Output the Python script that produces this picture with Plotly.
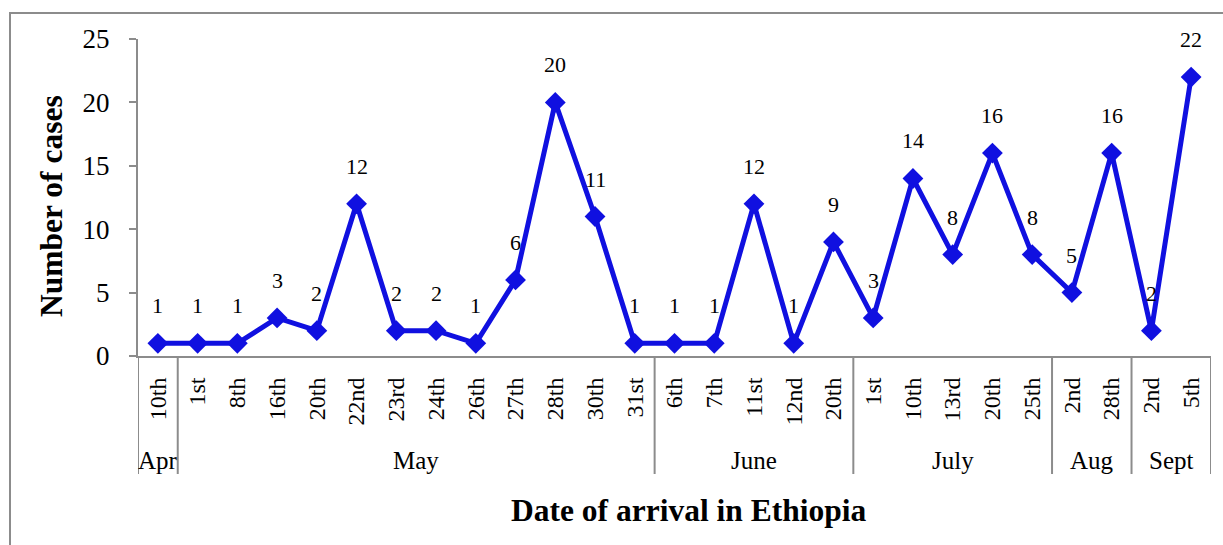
import plotly.graph_objects as go

# Arrival dates grouped by month, with the number of cases on each date
months = ["Apr",
          "May", "May", "May", "May", "May", "May", "May", "May", "May", "May", "May", "May",
          "June", "June", "June", "June", "June",
          "July", "July", "July", "July", "July",
          "Aug", "Aug",
          "Sept", "Sept"]
days = ["10th",
        "1st", "8th", "16th", "20th", "22nd", "23rd", "24th", "26th", "27th", "28th", "30th", "31st",
        "6th", "7th", "11st", "12nd", "20th",
        "1st", "10th", "13rd", "20th", "25th",
        "2nd", "28th",
        "2nd", "5th"]
cases = [1,
         1, 1, 3, 2, 12, 2, 2, 1, 6, 20, 11, 1,
         1, 1, 12, 1, 9,
         3, 14, 8, 16, 8,
         5, 16,
         2, 22]

FONT = "Liberation Serif"
BLUE = "#1010E0"
GREY = "#8C8C8C"

# one unique category per date, labelled with the day only
keys = [f"{m} {d}" for m, d in zip(months, days)]
n = len(keys)

fig = go.Figure(
    go.Scatter(
        x=keys,
        y=cases,
        mode="lines+markers",
        line=dict(color=BLUE, width=5),
        marker=dict(symbol="diamond", size=16, color=BLUE),
        cliponaxis=False,
        showlegend=False,
    )
)

# plot area: x 138..1211, y 39..356 (pixels)
L, R, T, B = 138, 1211, 39, 356
W, H = R - L, B - T

def px(x):
    return (x - L) / W

def py(y):
    return (B - y) / H

shapes = [
    # outer chart frame
    dict(type="rect", xref="paper", yref="paper",
         x0=px(10), x1=px(1240), y0=py(13), y1=py(560),
         line=dict(color=GREY, width=2), layer="below"),
]
annotations = []

# value labels above each point
for k, v in zip(keys, cases):
    annotations.append(dict(
        x=k, y=v, xref="x", yref="y", text=str(v), showarrow=False,
        yanchor="bottom", yshift=23,
        font=dict(family=FONT, size=22, color="black")))

# month groups: label centred under each group, dividers at the boundaries
groups = []
for i, m in enumerate(months):
    if groups and groups[-1][0] == m:
        groups[-1][2] = i
    else:
        groups.append([m, i, i])

for m, i0, i1 in groups:
    annotations.append(dict(
        x=(i0 + i1) / 2, y=py(460), xref="x", yref="paper", text=m,
        showarrow=False, xanchor="center", yanchor="middle",
        font=dict(family=FONT, size=25, color="black")))
    shapes.append(dict(type="line", xref="x", yref="paper",
                       x0=i0 - 0.5, x1=i0 - 0.5, y0=0, y1=py(474),
                       line=dict(color=GREY, width=2)))
shapes.append(dict(type="line", xref="x", yref="paper",
                   x0=n - 0.5, x1=n - 0.5, y0=0, y1=py(474),
                   line=dict(color=GREY, width=2)))

annotations += [
    dict(text="<b>Number of cases</b>", xref="paper", yref="paper",
         x=px(51), y=py(206), textangle=-90, showarrow=False,
         xanchor="center", yanchor="middle",
         font=dict(family=FONT, size=31.5, color="black")),
    dict(text="<b>Date of arrival in Ethiopia</b>", xref="paper", yref="paper",
         x=px(688), y=py(510), showarrow=False,
         xanchor="center", yanchor="middle",
         font=dict(family=FONT, size=31.5, color="black")),
]

fig.update_layout(
    width=1223,
    height=545,
    margin=dict(l=L, r=1223 - R, t=T, b=545 - B),
    plot_bgcolor="white",
    paper_bgcolor="white",
    font=dict(family=FONT, color="black"),
    xaxis=dict(
        type="category",
        range=[-0.5, n - 0.5],
        tickvals=keys,
        ticktext=days,
        showline=True,
        linecolor=GREY,
        linewidth=2,
        showgrid=False,
        ticks="",
        tickangle=-90,
        ticklabelstandoff=10,
        tickfont=dict(family=FONT, size=24, color="black"),
    ),
    yaxis=dict(
        range=[0, 25],
        tickvals=[0, 5, 10, 15, 20, 25],
        showline=True,
        linecolor=GREY,
        linewidth=2,
        showgrid=False,
        zeroline=False,
        ticks="outside",
        ticklen=7,
        tickcolor=GREY,
        tickwidth=2,
        ticklabelstandoff=14,
        tickfont=dict(family=FONT, size=27, color="black"),
    ),
    shapes=shapes,
    annotations=annotations,
)

fig.write_html("out.html")
